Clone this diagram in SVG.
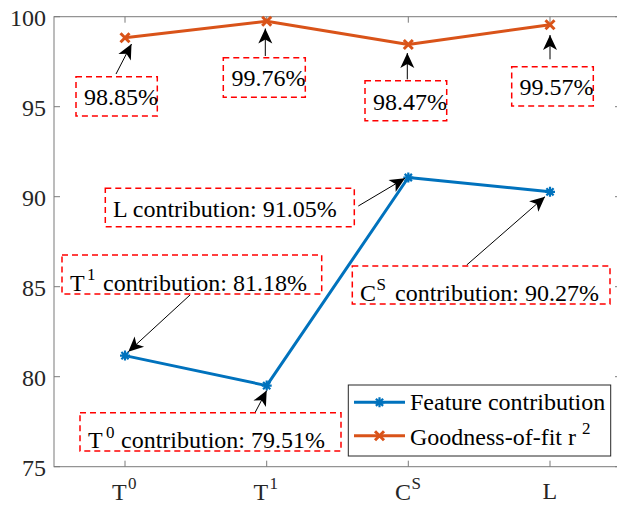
<svg xmlns="http://www.w3.org/2000/svg" width="617" height="505" viewBox="0 0 617 505" font-family="'Liberation Serif','Times New Roman',serif">
<style>
.t{font-family:"Liberation Serif","Times New Roman",serif;font-size:24px;fill:#000}
.tick{fill:#262626}
.sup{font-size:17px}
.ax{stroke:#7a7a7a;stroke-width:1;fill:none}
.box{fill:none;stroke:#ff0000;stroke-width:1.5;stroke-dasharray:6 4}
.arr{stroke:#000;stroke-width:1;fill:none;marker-end:url(#ah)}
.blue{stroke:#0072bd;stroke-width:3;fill:none;stroke-linejoin:round}
.org{stroke:#d95319;stroke-width:3;fill:none;stroke-linejoin:round}
.ast{stroke:#0072bd;stroke-width:2.2;fill:none}
.xm{stroke:#d95319;stroke-width:3;fill:none}
</style>
<defs>
<marker id="ah" markerUnits="userSpaceOnUse" markerWidth="16" markerHeight="16" refX="15" refY="7" orient="auto" overflow="visible">
<path d="M15,7 L0,0 L4,7 L0,14 Z" fill="#000"/>
</marker>
<g id="astm"><path d="M-5,0H5M0,-5V5M-3.6,-3.6L3.6,3.6M-3.6,3.6L3.6,-3.6"/></g>
<g id="xmk"><path d="M-4.5,-4.5L4.5,4.5M-4.5,4.5L4.5,-4.5"/></g>
</defs>
<rect width="617" height="505" fill="#fff"/>
<g id="axes">
<rect class="ax" x="54" y="16.7" width="567" height="450"/>
<path class="ax" d="M54,16.7h6M54,106.7h6M54,196.7h6M54,286.7h6M54,376.7h6M54,466.7h6M621,16.7h-6M621,106.7h-6M621,196.7h-6M621,286.7h-6M621,376.7h-6M621,466.7h-6M125,466.7v-6M266.7,466.7v-6M408.3,466.7v-6M550,466.7v-6M125,16.7v6M266.7,16.7v6M408.3,16.7v6M550,16.7v6"/>
<text class="t tick" text-anchor="end" x="46" y="25.5">100</text>
<text class="t tick" text-anchor="end" x="46" y="115.5">95</text>
<text class="t tick" text-anchor="end" x="46" y="205.5">90</text>
<text class="t tick" text-anchor="end" x="46" y="295.5">85</text>
<text class="t tick" text-anchor="end" x="46" y="385.5">80</text>
<text class="t tick" text-anchor="end" x="46" y="475.5">75</text>
<text class="t tick" x="112" y="499.5">T<tspan class="sup" x="128" y="489">0</tspan></text>
<text class="t tick" x="253.5" y="499.5">T<tspan class="sup" x="269.5" y="489">1</tspan></text>
<text class="t tick" x="395" y="499.5">C<tspan class="sup" x="411.5" y="489">S</tspan></text>
<text class="t tick" x="542.5" y="499">L</text>
</g>
<g id="series">
<polyline class="org" points="125,37.7 266.7,21.3 408.3,44.5 550,24.7"/>
<polyline class="blue" points="125,355.6 266.7,385.6 408.3,177.5 550,191.8"/>
<use href="#xmk" class="xm" x="125" y="37.7"/>
<use href="#xmk" class="xm" x="266.7" y="21.3"/>
<use href="#xmk" class="xm" x="408.3" y="44.5"/>
<use href="#xmk" class="xm" x="550" y="24.7"/>
<use href="#astm" class="ast" x="125" y="355.6"/>
<use href="#astm" class="ast" x="266.7" y="385.6"/>
<use href="#astm" class="ast" x="408.3" y="177.5"/>
<use href="#astm" class="ast" x="550" y="191.8"/>
</g>
<g id="connectors">
<line class="arr" x1="116" y1="74" x2="131.5" y2="44"/>
<line class="arr" x1="265.3" y1="56" x2="265.3" y2="28.5"/>
<line class="arr" x1="407.3" y1="79.3" x2="407.3" y2="53"/>
<line class="arr" x1="550" y1="59.3" x2="550" y2="35"/>
<line class="arr" x1="190" y1="295" x2="128.3" y2="351.7"/>
<line class="arr" x1="358.3" y1="206" x2="405" y2="178.3"/>
<line class="arr" x1="466.7" y1="265" x2="545" y2="196.7"/>
<line class="arr" x1="255" y1="412.7" x2="266.7" y2="390.5"/>
</g>
<g id="lbl-9885"><rect class="box" x="76" y="76.7" width="81.3" height="39.3"/><text class="t" x="84" y="105.3">98.85%</text></g>
<g id="lbl-9976"><rect class="box" x="223.3" y="57.7" width="82" height="39.6"/><text class="t" x="231.5" y="86">99.76%</text></g>
<g id="lbl-9847"><rect class="box" x="365" y="80.7" width="81.7" height="40"/><text class="t" x="373" y="110">98.47%</text></g>
<g id="lbl-9957"><rect class="box" x="511.7" y="66.7" width="81.6" height="39.3"/><text class="t" x="519.5" y="95">99.57%</text></g>
<g id="lbl-L"><rect class="box" x="105.3" y="188.3" width="249" height="38.4"/><text class="t" x="113" y="216.5">L contribution: 91.05%</text></g>
<g id="lbl-T1"><rect class="box" x="62" y="255" width="259.7" height="39"/><text class="t" x="70" y="291">T<tspan class="sup" x="87" y="280">1</tspan><tspan x="103" y="291">contribution: 81.18%</tspan></text></g>
<g id="lbl-CS"><rect class="box" x="352.3" y="266" width="257.7" height="38"/><text class="t" x="360" y="301">C<tspan class="sup" x="376.5" y="290">S</tspan><tspan x="395" y="301">contribution: 90.27%</tspan></text></g>
<g id="lbl-T0"><rect class="box" x="80" y="412.7" width="261" height="38.3"/><text class="t" x="88" y="448">T<tspan class="sup" x="106" y="437.5">0</tspan><tspan x="121" y="448">contribution: 79.51%</tspan></text></g>
<g id="legend">
<rect x="348.3" y="385" width="262.4" height="71" fill="#fff" stroke="#262626" stroke-width="1"/>
<line class="blue" x1="354" y1="402.3" x2="405" y2="402.3"/>
<use href="#astm" class="ast" x="379.5" y="402.3"/>
<text class="t" x="410" y="410">Feature contribution</text>
<line class="org" x1="354" y1="435.7" x2="405" y2="435.7"/>
<use href="#xmk" class="xm" x="379.5" y="435.7"/>
<text class="t" x="410" y="445">Goodness-of-fit r<tspan class="sup" x="582" y="434">2</tspan></text>
</g>
</svg>
